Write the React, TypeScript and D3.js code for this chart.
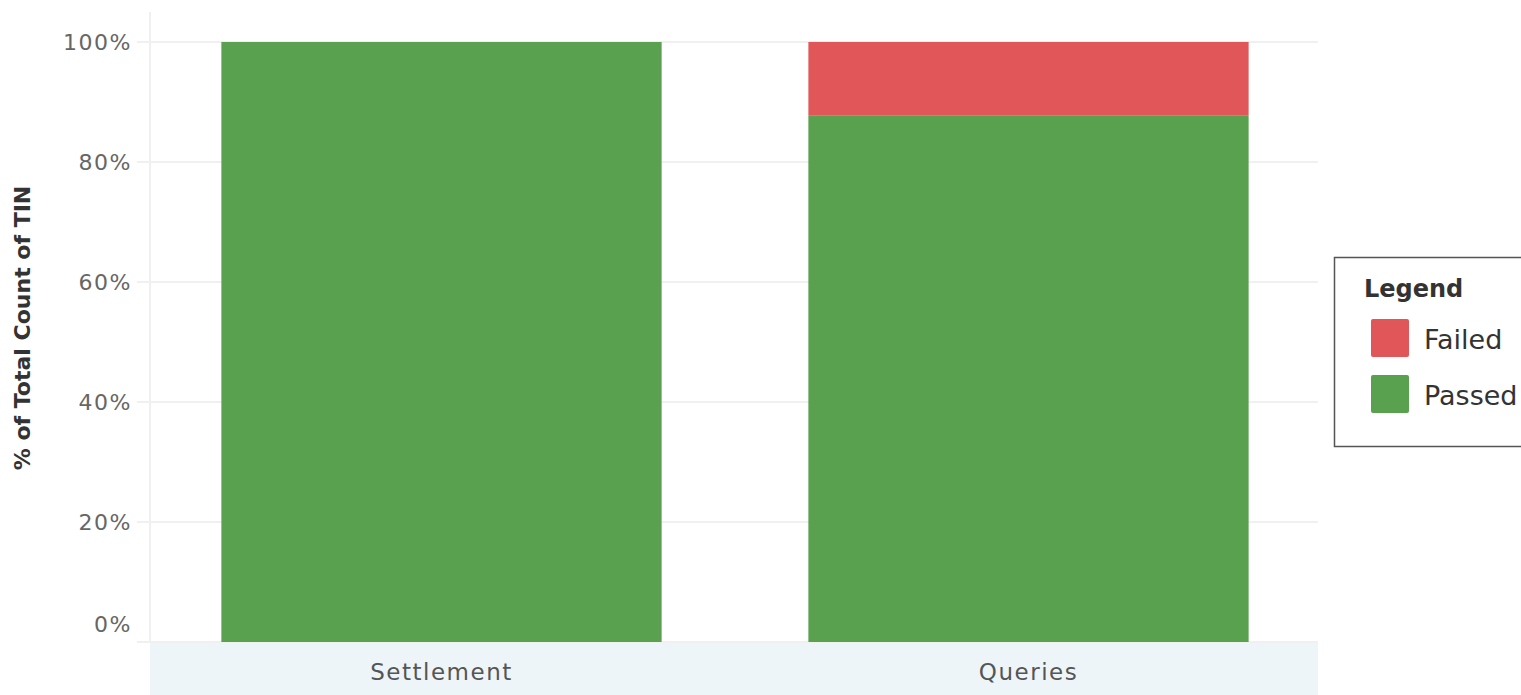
import * as React from "react";
import * as d3 from "d3";

const categories = ["Settlement", "Queries"];
const passedShare = [1.0, 0.877];
const failedShare = [0.0, 0.123];
const yTicks = [0, 0.2, 0.4, 0.6, 0.8, 1.0];
const legendItems = ["Failed", "Passed"];

const colors: Record<string, string> = { Failed: "#E15759", Passed: "#59A14F" };
const font = "'DejaVu Sans', sans-serif";

export default function App() {
  const width = 1521;
  const height = 695;
  const left = 150;
  const right = 1318;
  const top = 42;
  const bottom = 642;

  const x = d3.scaleBand().domain(categories).range([148, 1322]).paddingInner(0.25).paddingOuter(0.125);
  const y = d3.scaleLinear().domain([0, 1]).range([bottom, top]);

  const rows = categories.map((c, i) => ({ category: c, Passed: passedShare[i], Failed: failedShare[i] }));
  const stack = d3.stack<any>().keys(["Passed", "Failed"])(rows);

  return (
    <svg width={width} height={height} style={{ position: "absolute", left: 0, top: 0 }}>
      <rect x={0} y={0} width={width} height={height} fill="#fff" />
      {/* bottom axis band */}
      <rect x={left} y={bottom + 1} width={right - left} height={height - bottom} fill="#eef5f9" />
      {/* gridlines */}
      {yTicks.map((t) => (
        <g key={t}>
          <line x1={137} x2={right} y1={y(t)} y2={y(t)} stroke="#f0f0f0" strokeWidth={2} />
          <text
            x={132}
            y={t === 0 ? y(t) - 18 : y(t)}
            dy="0.35em"
            textAnchor="end"
            fontFamily={font}
            fontSize={22}
            letterSpacing={1.5}
            fill="#666"
          >
            {d3.format(".0%")(t)}
          </text>
        </g>
      ))}
      <line x1={left} x2={left} y1={12} y2={bottom} stroke="#f0f0f0" strokeWidth={2} />
      {/* bars */}
      {stack.map((layer) =>
        layer.map((d, i) => {
          const h = y(d[0]) - y(d[1]);
          if (h <= 0) return null;
          return (
            <rect
              key={layer.key + i}
              x={x(categories[i])}
              y={y(d[1])}
              width={x.bandwidth()}
              height={h}
              fill={colors[layer.key as string]}
            />
          );
        })
      )}
      {/* category labels */}
      {categories.map((c) => (
        <text
          key={c}
          x={(x(c) as number) + x.bandwidth() / 2}
          y={672}
          dy="0.35em"
          textAnchor="middle"
          fontFamily={font}
          fontSize={23}
          letterSpacing={1.5}
          fill="#555"
        >
          {c}
        </text>
      ))}
      {/* y axis title */}
      <text
        transform={`translate(30,328) rotate(-90)`}
        textAnchor="middle"
        fontFamily={font}
        fontSize={22}
        fontWeight="bold"
        fill="#333"
      >
        % of Total Count of TIN
      </text>
      {/* legend */}
      <rect x={1334.5} y={257.5} width={200} height={189} fill="#fff" stroke="#555" strokeWidth={1.5} />
      <text x={1364} y={297} fontFamily={font} fontSize={24} fontWeight="bold" fill="#333">
        Legend
      </text>
      {legendItems.map((k, i) => (
        <g key={k} transform={`translate(1371,${319 + i * 56})`}>
          <rect width={38} height={38} rx={2} fill={colors[k]} />
          <text x={53} y={21} dy="0.35em" fontFamily={font} fontSize={27} fill="#333">
            {k}
          </text>
        </g>
      ))}
    </svg>
  );
}
